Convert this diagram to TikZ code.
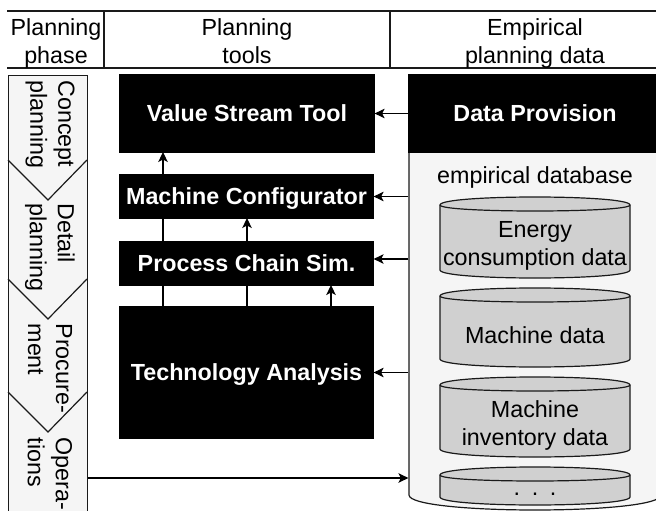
\documentclass[tikz,border=0pt]{standalone}
\usepackage{fontspec}
\setmainfont{Liberation Sans}
\usetikzlibrary{arrows.meta}
\definecolor{lightbg}{HTML}{F5F5F5}
\definecolor{cylgray}{HTML}{D0D0D0}
\definecolor{linec}{HTML}{1A1A1A}

% #1 name, #2 x, #3 y (top), #4 width, #5 height, #6 text
\newcommand{\cylbox}[6]{%
  \filldraw[fill=cylgray, draw=linec]
    (#2,#3+8) .. controls (#2,#3-8/3) and (#2+#4,#3-8/3) .. (#2+#4,#3+8)
    -- (#2+#4,#3+#5-8) .. controls (#2+#4,#3+#5+8/3) and (#2,#3+#5+8/3) .. (#2,#3+#5-8) -- cycle;
  \draw[linec] (#2,#3+8) .. controls (#2,#3+16) and (#2+#4,#3+16) .. (#2+#4,#3+8);
  \node[txt, align=center] (#1) at (#2+#4/2,#3+#5/2+8) {#6};}

\begin{document}
\begin{tikzpicture}[x=1pt, y=-1pt, line width=1.2pt,
  txt/.style={inner sep=0pt, font=\fontsize{23.3}{28}\selectfont},
  head/.style={txt, align=center, text depth=5pt},
  toolbox/.style={fill=black, draw=black, text=white, inner sep=0pt,
    font=\bfseries\fontsize{23.3}{28}\selectfont, text depth=0pt,
    minimum width=253pt},
  phasetxt/.style={txt, align=left, rotate=-90, anchor=west},
  arr/.style={-{Stealth[length=10pt, width=9.5pt, inset=2.5pt]}, black},
  ln/.style={draw=linec}]
\path[use as bounding box, clip] (0,0) rectangle (656,511);

% header
\draw[ln] (7,11) -- (700,11);
\draw[ln] (7,68) -- (700,68);
\draw[ln] (104,11) -- (104,68);
\draw[ln] (390,11) -- (390,68);
\node[head] (h1) at (56,43.6) {Planning\\phase};
\node[head] (h2) at (247,43.6) {Planning\\tools};
\node[head] (h3) at (535,43.6) {Empirical\\planning data};

% planning phase column
\node[draw=linec, fill=lightbg, minimum width=79pt, minimum height=460pt, inner sep=0pt,
  anchor=north west] (phase) at (8,75) {};
\draw[ln] (8,160) -- (48,200) -- (87,160);
\draw[ln] (8,279) -- (48,319) -- (87,279);
\draw[ln] (8,392) -- (48,432) -- (87,392);
\node[phasetxt] (p1) at (50,80) {Concept\\planning};
\node[phasetxt] (p2) at (50,203) {Detail\\planning};
\node[phasetxt] (p3) at (50,323) {Procure-\\ment};
\node[phasetxt] (p4) at (50,437) {Opera-\\tions};

% empirical database container
\filldraw[fill=lightbg, draw=linec] (409,152) -- (409,495)
  .. controls (409,515) and (661,515) .. (661,495) -- (661,152) -- cycle;
\node[inner sep=0pt, minimum width=252pt, minimum height=343pt] (db) at (535,323.5) {};
\node[txt] (dblabel) at (535,177) {empirical database};
\cylbox{c1}{440}{197}{190}{81}{Energy\\consumption data}
\cylbox{c2}{440}{288}{190}{79}{Machine data}
\cylbox{c3}{440}{377}{190}{80}{Machine\\inventory data}
\cylbox{c4}{440}{467}{190}{38}{.\,\,\,.\,\,\,.}

% vertical arrows (behind the boxes)
\draw[arr] (163,307) -- (163,152);
\draw[arr] (247,307) -- (247,218);
\draw[arr] (331,307) -- (331,285);

% tool boxes
\node[toolbox, minimum height=77pt, minimum width=254pt] (vst) at (247,113.5) {Value Stream Tool};
\node[toolbox, minimum height=43pt] (mc) at (246.5,196.5) {Machine Configurator};
\node[toolbox, minimum height=43pt] (pcs) at (246.5,263.5) {Process Chain Sim.};
\node[toolbox, minimum height=131pt] (ta) at (246.5,372.5) {Technology Analysis};
\node[toolbox, minimum height=77pt, minimum width=252pt] (dp) at (535,113.5) {Data Provision};

% horizontal arrows
\draw[arr] (dp.west) -- (vst.east);
\draw[arr] (db.west |- mc.east) -- (mc.east);
\draw[arr] (db.west |- 0,259) -- (pcs.east |- 0,259);
\draw[arr] (db.west |- ta.east) -- (ta.east);
\draw[arr] (phase.east |- 0,478) -- (db.west |- 0,478);
\end{tikzpicture}
\end{document}
